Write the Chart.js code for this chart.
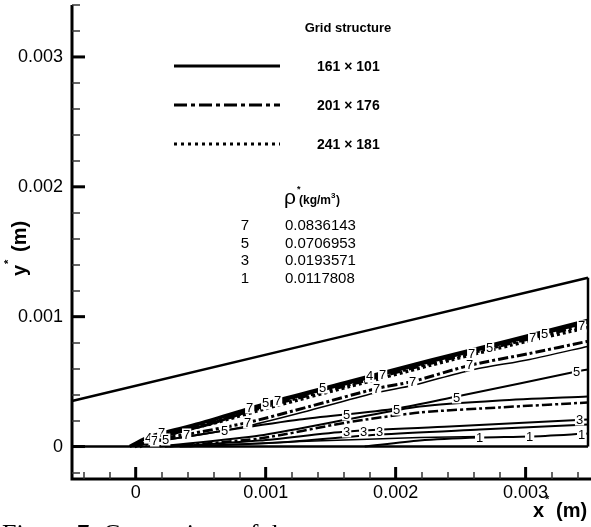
<!DOCTYPE html>
<html>
<head>
<meta charset="utf-8">
<script src="https://cdn.jsdelivr.net/npm/chart.js@4"></script>
<style>
  html, body { margin: 0; padding: 0; background: #fff; }
  canvas { display: block; }
</style>
</head>
<body>
<canvas id="chart" width="591" height="527"></canvas>
<script>
// axis ranges and ticks (metres)
const xRange = [-0.00049, 0.00348];
const yRange = [-0.00025, 0.0034];
const xMajorTicks = [0, 0.001, 0.002, 0.003];
const yMajorTicks = [0, 0.001, 0.002, 0.003];
const xTickLabels = ['0', '0.001', '0.002', '0.003'];
const yTickLabels = ['0', '0.001', '0.002', '0.003'];
const minorStep = 0.0002;

// legend data
const gridNames = ['161 \u00d7 101', '201 \u00d7 176', '241 \u00d7 181'];
const levelIds = ['7', '5', '3', '1'];
const levelValues = ['0.0836143', '0.0706953', '0.0193571', '0.0117808'];

// domain walls
const wallTop = [[-0.00049, 0.00035], [0.00348, 0.0013]];
const wallBottom = [[-0.00049, 0], [0.00348, 0]];
const wallRight = [[0.00348, 0], [0.00348, 0.0013]];

// density contours: [x, y]
// upper band (shock), three grids plus level 5 inside it
const bandSolid = [[-0.000046, 0], [0.000108, 0.000077], [0.000492, 0.000177], [0.001085, 0.000355], [0.001646, 0.000501], [0.002262, 0.000663], [0.002877, 0.000817], [0.003477, 0.000971]];
const bandDashDot = [[-0.000008, 0], [0.000185, 0.000085], [0.000492, 0.000162], [0.001085, 0.000332], [0.001646, 0.000478], [0.002262, 0.00064], [0.002877, 0.000794], [0.003477, 0.000941]];
const bandDotted = [[0.000031, 0], [0.000262, 0.000093], [0.000646, 0.000193], [0.001085, 0.000316], [0.001646, 0.000463], [0.002262, 0.000625], [0.002877, 0.000779], [0.003477, 0.000917]];
const band5Solid = [[0.000031, 0.00001], [0.000231, 0.000085], [0.000569, 0.000173], [0.001085, 0.000343], [0.001646, 0.00049], [0.002262, 0.000652], [0.002877, 0.000806], [0.003477, 0.000956]];
// level 7, lower branch
const rho7DashDot = [[0.000085, 0.000046], [0.000392, 0.000093], [0.000862, 0.000185], [0.001338, 0.000308], [0.001854, 0.000447], [0.002131, 0.000501], [0.002569, 0.000625], [0.003031, 0.000717], [0.003477, 0.00081]];
const rho7Solid = [[0.000108, 0.000039], [0.000415, 0.000077], [0.000877, 0.000162], [0.001338, 0.000278], [0.001854, 0.000416], [0.002131, 0.00047], [0.002569, 0.000586], [0.003031, 0.000671], [0.003477, 0.000771]];
// level 5
const rho5Solid = [[0.000108, 0.000031], [0.000685, 0.000123], [0.001262, 0.000208], [0.002008, 0.000293], [0.002469, 0.000386], [0.002954, 0.000486], [0.003392, 0.000578], [0.003477, 0.000594]];
const rho5LowSolid = [[0.000185, 0], [0.000954, 0.000085], [0.001623, 0.000208], [0.002185, 0.000308], [0.0028, 0.000355], [0.003477, 0.000386]];
const rho5LowDashDot = [[0.000223, 0], [0.000954, 0.000062], [0.001623, 0.000185], [0.002185, 0.000262], [0.0028, 0.000301], [0.003477, 0.000339]];
// level 3
const rho3Solid = [[0.000262, 0], [0.000954, 0.000046], [0.001623, 0.000116], [0.002415, 0.000154], [0.003477, 0.000208]];
const rho3Lower = [[0.000338, 0], [0.001108, 0.000031], [0.001877, 0.000093], [0.002646, 0.000131], [0.003477, 0.00017]];
// level 1
const rho1Solid = [[0.001762, 0], [0.002185, 0.000046], [0.002646, 0.000069], [0.003031, 0.000077], [0.003477, 0.0001]];
const rho1Left = [[0.000415, 0], [0.001262, 0.000039], [0.002185, 0.000069], [0.002646, 0.000077]];

// contour labels
const labelX = [0.0001, 0.000146, 0.0002, 0.000231, 0.000392, 0.000685, 0.000862, 0.000877, 0.001, 0.001092, 0.001438, 0.0018, 0.0019, 0.002585, 0.002723, 0.003054, 0.003146, 0.003431, 0.001854, 0.002131, 0.002569, 0.001623, 0.002008, 0.002469, 0.003392, 0.001623, 0.001754, 0.001877, 0.003415, 0.002646, 0.003031, 0.003431];
const labelY = [0.000069, 0.000046, 0.000108, 0.000054, 0.000093, 0.000123, 0.000185, 0.000301, 0.000332, 0.000355, 0.000455, 0.00054, 0.000555, 0.000717, 0.000756, 0.000833, 0.000864, 0.000925, 0.000447, 0.000501, 0.000625, 0.000247, 0.000285, 0.000378, 0.000578, 0.000116, 0.000116, 0.000116, 0.000208, 0.000069, 0.000077, 0.000093];
const labelText = ['4', '7', '7', '5', '7', '5', '7', '7', '5', '7', '5', '4', '7', '7', '5', '7', '5', '7', '7', '7', '7', '5', '5', '5', '5', '3', '3', '3', '3', '1', '1', '1'];

const SOLID = [];
const DASH_DOT = [10, 3, 3, 3];
const DOTTED = [3, 3];

function line(points, dash, width) {
    return {
        data: points.map(p => ({ x: p[0], y: p[1] })),
        showLine: true,
        borderColor: '#000',
        borderWidth: width,
        borderDash: dash,
        pointRadius: 0,
        tension: 0.25,
        clip: false
    };
}

const datasets = [
    line(wallTop, SOLID, 2.5),
    line(wallBottom, SOLID, 2.5),
    line(wallRight, SOLID, 2.5),
    line(bandSolid, SOLID, 3.5),
    line(band5Solid, SOLID, 3),
    line(bandDashDot, DASH_DOT, 3.5),
    line(bandDotted, DOTTED, 3.5),
    line(rho7DashDot, DASH_DOT, 3),
    line(rho7Solid, SOLID, 1.5),
    line(rho5Solid, SOLID, 2),
    line(rho5LowSolid, SOLID, 2),
    line(rho5LowDashDot, DASH_DOT, 2.5),
    line(rho3Solid, SOLID, 2),
    line(rho3Lower, SOLID, 2),
    line(rho1Solid, SOLID, 2),
    line(rho1Left, SOLID, 1.5)
];

const FONT = '"Liberation Sans", Arial, sans-serif';

// labels on the contours, after the lines
const contourLabels = {
    id: 'contourLabels',
    afterDatasetsDraw(chart) {
        const ctx = chart.ctx;
        const xs = chart.scales.x, ys = chart.scales.y;
        ctx.save();
        ctx.font = '13px ' + FONT;
        ctx.textAlign = 'center';
        ctx.textBaseline = 'middle';
        labelText.forEach((t, i) => {
            const px = xs.getPixelForValue(labelX[i]);
            const py = ys.getPixelForValue(labelY[i]);
            const w = ctx.measureText(t).width;
            ctx.fillStyle = '#fff';
            ctx.fillRect(px - w / 2 - 1, py - 6, w + 2, 12);
            ctx.fillStyle = '#000';
            ctx.fillText(t, px, py + 0.5);
        });
        ctx.restore();
    }
};

// axes, ticks, titles, legend, caption
const frame = {
    id: 'frame',
    afterDraw(chart) {
        const ctx = chart.ctx;
        const a = chart.chartArea;
        const xs = chart.scales.x, ys = chart.scales.y;
        ctx.save();
        ctx.strokeStyle = '#000';
        ctx.fillStyle = '#000';

        // axis lines
        ctx.lineWidth = 3;
        ctx.beginPath();
        ctx.moveTo(a.left, a.top);
        ctx.lineTo(a.left, a.bottom);
        ctx.lineTo(a.right + 3, a.bottom);
        ctx.stroke();

        // minor ticks
        ctx.lineWidth = 1.5;
        ctx.strokeStyle = '#333';
        for (let v = -0.0004; v <= xRange[1] + 1e-9; v += minorStep) {
            const px = Math.round(xs.getPixelForValue(v));
            ctx.beginPath();
            ctx.moveTo(px, a.bottom);
            ctx.lineTo(px, a.bottom - 7);
            ctx.stroke();
        }
        for (let v = -0.0002; v <= yRange[1] + 1e-9; v += minorStep) {
            const py = Math.round(ys.getPixelForValue(v));
            ctx.beginPath();
            ctx.moveTo(a.left, py);
            ctx.lineTo(a.left + 8, py);
            ctx.stroke();
        }

        // major ticks and labels
        ctx.strokeStyle = '#000';
        ctx.lineWidth = 3;
        ctx.font = '18px ' + FONT;
        ctx.textAlign = 'center';
        ctx.textBaseline = 'middle';
        xMajorTicks.forEach((v, i) => {
            const px = xs.getPixelForValue(v);
            ctx.beginPath();
            ctx.moveTo(px, a.bottom);
            ctx.lineTo(px, a.bottom - 12);
            ctx.stroke();
            ctx.fillText(xTickLabels[i], px, a.bottom + 14);
        });
        ctx.textAlign = 'right';
        yMajorTicks.forEach((v, i) => {
            const py = ys.getPixelForValue(v);
            ctx.beginPath();
            ctx.moveTo(a.left, py);
            ctx.lineTo(a.left + 13, py);
            ctx.stroke();
            ctx.fillText(yTickLabels[i], a.left - 9, py);
        });

        // axis titles
        ctx.textAlign = 'left';
        ctx.textBaseline = 'alphabetic';
        ctx.font = 'bold 20px ' + FONT;
        ctx.fillText('x', 533, 517);
        ctx.font = 'bold 11px ' + FONT;
        ctx.fillText('*', 545, 503);
        ctx.font = 'bold 20px ' + FONT;
        ctx.fillText('(m)', 556, 517);

        ctx.save();
        ctx.translate(26, 276);
        ctx.rotate(-Math.PI / 2);
        ctx.font = 'bold 20px ' + FONT;
        ctx.fillText('y', 0, 0);
        ctx.font = 'bold 11px ' + FONT;
        ctx.fillText('*', 12, -14);
        ctx.font = 'bold 20px ' + FONT;
        ctx.fillText('(m)', 24, 0);
        ctx.restore();

        // legend: grid structure
        ctx.font = 'bold 13px ' + FONT;
        ctx.textAlign = 'center';
        ctx.textBaseline = 'middle';
        ctx.fillText('Grid structure', 348, 28);
        const sampleY = [66, 105, 144];
        const sampleDash = [SOLID, [13, 4, 4, 4], [3, 4]];
        gridNames.forEach((g, i) => {
            ctx.lineWidth = 3;
            ctx.setLineDash(sampleDash[i]);
            ctx.beginPath();
            ctx.moveTo(174, sampleY[i]);
            ctx.lineTo(280, sampleY[i]);
            ctx.stroke();
            ctx.setLineDash([]);
            ctx.font = 'bold 14px ' + FONT;
            ctx.textAlign = 'left';
            ctx.fillText(g, 317, sampleY[i] + 1);
        });

        // legend: density levels
        ctx.font = '21px ' + FONT;
        ctx.textBaseline = 'alphabetic';
        ctx.fillText('\u03c1', 284, 204);
        ctx.font = 'bold 9px ' + FONT;
        ctx.fillText('*', 297, 192);
        ctx.font = 'bold 12px ' + FONT;
        ctx.fillText('(kg/m', 299, 204);
        const kgW = ctx.measureText('(kg/m').width;
        ctx.font = 'bold 8px ' + FONT;
        ctx.fillText('3', 299 + kgW, 198);
        ctx.font = 'bold 12px ' + FONT;
        ctx.fillText(')', 299 + kgW + 5, 204);

        ctx.font = '15px ' + FONT;
        ctx.textBaseline = 'middle';
        levelIds.forEach((id, i) => {
            const py = 226 + i * 17.6;
            ctx.textAlign = 'center';
            ctx.fillText(id, 245, py);
            ctx.textAlign = 'left';
            ctx.fillText(levelValues[i], 285, py);
        });

        // cut-off figure caption
        ctx.font = '26px "Liberation Serif", "DejaVu Serif", serif';
        ctx.textAlign = 'left';
        ctx.textBaseline = 'alphabetic';
        ctx.fillText('Figure 7: Comparison of the', 2, 542);

        ctx.restore();
    }
};

new Chart(document.getElementById('chart'), {
    type: 'scatter',
    data: { datasets: datasets },
    options: {
        responsive: false,
        animation: false,
        events: [],
        layout: { padding: { left: 72, right: 3, top: 5, bottom: 48 } },
        scales: {
            x: { type: 'linear', min: xRange[0], max: xRange[1], display: false },
            y: { type: 'linear', min: yRange[0], max: yRange[1], display: false }
        },
        plugins: {
            legend: { display: false },
            tooltip: { enabled: false }
        }
    },
    plugins: [contourLabels, frame]
});
</script>
</body>
</html>
